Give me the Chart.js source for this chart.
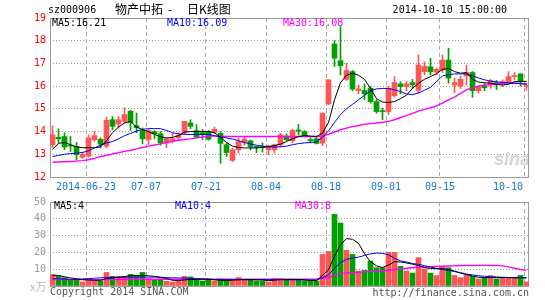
<!DOCTYPE html>
<html>
<head>
<meta charset="utf-8">
<script src="https://cdn.jsdelivr.net/npm/chart.js@4.4.1/dist/chart.umd.min.js"></script>
<style>
  html, body { margin: 0; padding: 0; background: #fff; }
  #wrap { position: relative; width: 545px; height: 300px; overflow: hidden;
          font-family: "DejaVu Sans Mono", monospace; font-size: 10px; }
  canvas { position: absolute; left: 0; top: 0; }
  .t { position: absolute; white-space: pre; line-height: 10px; }
  .cn { font-family: "Noto Sans CJK SC", sans-serif; font-size: 12px; line-height: 12px; }
</style>
</head>
<body>
<div id="wrap">
  <div class="t" style="left:494px;top:150px;font:italic bold 18px 'Liberation Sans',sans-serif;color:#d6d6d6;line-height:18px">sina</div>
  <canvas id="kChart" width="545" height="300"></canvas>
  <canvas id="volChart" width="545" height="300"></canvas>

  <div class="t" style="left:48px;top:5px">sz000906</div>
  <div class="t cn" style="left:115px;top:3px">物产中拓<span style="position:absolute;left:53px">-</span><span style="position:absolute;left:72px">日K线图</span></div>
  <div class="t" style="right:38px;top:5px">2014-10-10 15:00:00</div>

  <div class="t" style="left:52px;top:18px;color:#000">MA5:16.21</div>
  <div class="t" style="left:167px;top:18px;color:#0000ff">MA10:16.09</div>
  <div class="t" style="left:283px;top:18px;color:#ff00ff">MA30:16.08</div>

  <div class="t" style="left:54px;top:201px;color:#000">MA5:4</div>
  <div class="t" style="left:175px;top:201px;color:#0000ff">MA10:4</div>
  <div class="t" style="left:295px;top:201px;color:#ff00ff">MA30:8</div>

  <div class="t cn" style="left:30px;top:281px;font-size:11px;line-height:11px;color:#bbb">x万</div>
  <div class="t" style="left:50px;top:287px;color:#555">Copyright 2014 SINA.COM</div>
  <div class="t" style="right:16px;top:288px;color:#555">http://finance.sina.com.cn</div>
</div>

<script>
// 2014-06-13 .. 2014-10-10, 80 trading days
const tickIndex = [6, 16, 26, 36, 46, 56, 65, 79];
const tickLabels = ["2014-06-23", "07-07", "07-21", "08-04", "08-18", "09-01", "09-15", "10-10"];
const priceTicks = [12, 13, 14, 15, 16, 17, 18, 19];
const volTicks = [0, 10, 20, 30, 40, 50];

const openP = [13.42,13.75,13.78,13.40,13.35,12.87,12.92,13.64,13.66,13.36,
  14.52,14.34,14.45,14.90,14.26,14.04,13.65,14.00,13.90,13.50,
  13.58,13.72,13.94,14.38,14.04,13.95,14.00,13.96,13.92,13.42,
  12.73,13.20,13.52,13.59,13.33,13.34,13.20,13.20,13.42,13.80,
  13.60,14.07,14.00,13.65,13.68,13.49,15.22,17.86,17.12,16.30,
  16.64,15.80,15.81,15.91,15.32,14.92,14.88,15.58,16.10,15.98,
  16.16,15.82,16.64,16.85,16.62,16.71,17.15,16.05,16.00,16.45,
  16.60,15.80,16.00,16.10,16.15,16.10,16.20,16.42,16.54,15.98];
const highP = [14.25,14.12,13.95,13.78,13.52,13.10,13.85,14.00,13.72,14.64,
  14.66,14.66,15.05,14.93,14.82,14.16,14.10,14.04,14.00,13.72,
  13.94,13.94,14.45,14.52,14.30,14.10,14.05,14.20,14.00,13.49,
  13.27,13.70,13.78,13.63,13.36,13.50,13.40,13.45,13.93,13.90,
  14.10,14.32,14.04,13.72,13.80,14.82,16.28,18.00,18.62,17.00,
  16.69,16.06,16.10,15.98,15.40,15.03,15.98,16.42,16.20,16.20,
  16.30,17.37,17.07,17.23,16.80,17.37,17.67,16.35,16.45,16.93,
  16.64,16.00,16.12,16.30,16.25,16.28,16.64,16.60,16.54,16.12];
const lowP = [13.30,13.50,13.20,13.12,12.76,12.82,12.88,13.57,13.28,13.28,
  14.08,14.15,14.37,14.05,13.94,13.46,13.43,13.68,13.40,13.29,
  13.50,13.65,13.87,14.13,13.72,13.65,13.62,13.90,12.60,12.90,
  12.68,13.05,13.40,13.19,13.07,13.10,12.98,13.05,13.32,13.60,
  13.50,13.85,13.80,13.50,13.45,13.38,15.18,16.86,16.49,16.25,
  15.80,15.66,15.40,15.25,14.81,14.52,14.74,15.51,15.66,15.80,
  15.90,15.69,16.49,16.49,16.49,16.60,16.13,15.72,15.90,16.05,
  15.51,15.70,15.80,15.90,15.85,15.98,16.12,16.28,16.00,15.82];
const closeP = [13.86,13.68,13.32,13.36,12.98,13.00,13.71,13.82,13.44,14.50,
  14.23,14.52,14.75,14.40,14.17,13.68,14.04,13.90,13.50,13.68,
  13.68,13.84,14.45,14.23,13.75,13.88,13.66,14.10,13.48,13.08,
  13.20,13.56,13.67,13.34,13.31,13.31,13.36,13.42,13.86,13.64,
  14.05,14.02,13.78,13.60,13.48,14.81,16.28,17.23,16.90,16.69,
  15.87,15.88,15.66,15.32,14.88,14.88,15.90,16.16,15.98,16.10,
  16.06,16.93,16.88,16.63,16.74,17.15,16.35,16.16,16.30,16.60,
  15.80,15.98,15.93,16.24,16.08,16.20,16.42,16.46,16.20,16.01];

const ma5 = [13.22,13.48,13.52,13.42,13.33,13.29,13.29,13.29,13.32,13.60,
  13.95,14.20,14.38,14.45,14.20,14.08,14.00,13.88,13.77,13.72,
  13.74,13.82,13.98,14.00,14.00,14.00,14.00,13.95,13.75,13.52,
  13.36,13.30,13.28,13.28,13.28,13.30,13.34,13.38,13.45,13.56,
  13.68,13.78,13.82,13.80,13.78,13.93,14.40,15.40,16.15,16.48,
  16.57,16.48,16.30,15.90,15.45,15.30,15.28,15.32,15.45,15.60,
  15.90,16.13,16.30,16.42,16.55,16.74,16.78,16.64,16.57,16.60,
  16.30,16.18,16.15,16.13,16.08,16.05,16.08,16.20,16.21,16.21];
const ma10 = [12.90,12.95,13.00,13.03,13.05,13.08,13.15,13.28,13.40,13.50,
  13.56,13.68,13.82,13.92,14.02,14.10,14.13,14.13,14.13,14.05,
  13.95,13.90,13.88,13.87,13.87,13.87,13.87,13.82,13.77,13.72,
  13.67,13.60,13.52,13.45,13.40,13.36,13.33,13.32,13.33,13.36,
  13.42,13.47,13.50,13.52,13.55,13.75,14.03,14.40,14.75,15.00,
  15.20,15.40,15.60,15.80,15.88,15.90,15.90,15.84,15.76,15.66,
  15.62,15.70,15.82,15.95,16.20,16.45,16.50,16.54,16.54,16.54,
  16.45,16.36,16.28,16.22,16.19,16.16,16.15,16.13,16.11,16.09];
const ma30 = [12.65,12.66,12.67,12.68,12.70,12.72,12.76,12.82,12.90,12.96,
  13.02,13.07,13.13,13.18,13.24,13.30,13.36,13.41,13.46,13.52,
  13.57,13.62,13.65,13.68,13.72,13.76,13.80,13.80,13.80,13.79,
  13.78,13.78,13.78,13.78,13.78,13.78,13.78,13.78,13.78,13.78,
  13.78,13.78,13.78,13.78,13.78,13.80,13.88,13.98,14.08,14.15,
  14.22,14.27,14.32,14.35,14.38,14.41,14.45,14.52,14.62,14.70,
  14.80,14.90,14.98,15.05,15.13,15.25,15.40,15.52,15.68,15.84,
  15.93,16.00,16.04,16.07,16.10,16.12,16.13,16.13,16.12,16.08];

// volume, 10k lots
const volume = [6.9,5.8,5.0,3.8,3.4,2.4,3.8,3.8,3.0,8.1,
  5.8,5.8,5.4,6.9,5.8,8.1,4.4,3.4,4.2,2.8,
  2.4,3.0,5.8,5.4,3.4,3.0,3.4,3.0,4.2,3.0,
  3.0,5.0,3.8,3.8,3.0,3.0,2.4,4.4,4.4,3.4,
  3.4,3.8,3.0,3.0,3.0,18.8,20.6,42.7,37.5,21.2,
  18.8,8.9,9.3,14.9,10.9,10.9,20.0,20.0,11.7,8.9,
  7.7,16.9,10.1,7.7,6.2,11.7,10.9,6.3,5.0,6.3,
  5.8,4.2,5.0,6.2,4.2,5.0,5.0,5.0,6.3,2.4];
const volMa5 = [6.3,6.3,5.5,4.8,4.3,3.8,3.6,3.4,3.4,4.4,
  4.8,5.2,5.6,6.2,6.2,6.4,6.1,5.7,5.2,4.5,
  3.4,3.2,3.6,3.9,4.0,4.1,4.1,3.7,3.4,3.3,
  3.4,3.7,3.8,3.8,3.7,3.6,3.2,3.5,3.8,3.9,
  3.9,3.9,3.6,3.3,3.2,6.3,9.7,17.7,24.6,28.2,
  27.8,25.4,19.2,14.4,12.0,11.0,12.5,14.5,14.3,13.7,
  13.0,12.2,11.0,10.4,10.3,10.3,9.8,8.9,7.6,6.8,
  5.9,5.2,5.0,5.0,5.0,5.0,5.0,4.9,4.9,4.8];
const volMa10 = [4.4,4.3,4.1,4.0,4.0,4.2,4.4,4.6,4.9,5.0,
  5.0,5.1,5.2,5.3,5.4,5.4,5.3,5.3,5.2,5.0,
  4.9,4.8,4.7,4.6,4.4,4.2,4.0,3.9,3.8,3.8,
  3.8,3.8,3.8,3.8,3.8,3.8,3.8,3.8,3.8,3.7,
  3.7,3.7,3.7,3.6,3.6,5.0,6.7,10.5,13.9,15.9,
  16.6,17.2,18.2,19.1,19.6,19.4,18.6,16.5,15.0,14.3,
  13.4,12.9,12.1,11.3,10.5,9.8,9.3,8.6,8.0,7.1,
  6.6,6.1,5.8,5.6,5.4,5.2,5.1,5.0,5.0,4.9];
const volMa30 = [3.8,3.8,3.8,3.8,3.8,3.8,3.8,3.8,3.8,3.8,
  3.8,4.0,4.0,4.0,4.0,4.0,4.0,4.0,4.0,4.0,
  4.0,4.0,4.0,4.0,4.0,4.0,4.0,4.0,4.0,4.0,
  4.0,4.1,4.1,4.1,4.1,4.1,4.1,4.1,4.1,4.1,
  4.1,4.1,4.1,4.1,4.1,4.6,5.2,6.3,7.2,7.8,
  8.0,8.2,8.4,8.7,8.9,9.1,9.4,9.8,10.2,10.6,
  10.9,11.2,11.4,11.5,11.7,11.8,11.9,12.0,12.2,12.3,
  12.3,12.3,12.3,12.3,12.3,12.0,11.4,10.6,9.8,9.3];

const UP = "#ff5555", DOWN = "#00a000";
const FONT = { family: "DejaVu Sans Mono", size: 10 };
const GRID_SHIFT = 5 / 12;          // grid line sits at the left edge of a day slot
const N = closeP.length;
const X_MIN = -GRID_SHIFT, X_MAX = N - 1 + GRID_SHIFT;

const candleColors = closeP.map((c, i) => c >= openP[i] ? UP : DOWN);
const pts = arr => arr.map((v, i) => ({ x: i, y: v }));

function xAxis(height) {
  return {
    type: "linear", min: X_MIN, max: X_MAX, offset: false,
    afterBuildTicks: s => { s.ticks = tickIndex.map(i => ({ value: i - GRID_SHIFT })); },
    afterFit: s => { s.height = height; },
    ticks: { display: false },
    grid: { color: "#aaa", drawTicks: false, offset: false },
    border: { display: false, dash: [4, 3] }
  };
}

function yAxis(min, max, values, color, hideEdge) {
  return {
    min, max,
    afterBuildTicks: s => { s.ticks = values.map(v => ({ value: v })); },
    afterFit: s => { s.width = 50; },
    ticks: { color, font: FONT, padding: 4, callback: v => (hideEdge && v === 0) ? "" : v },
    grid: { color: c => (c.tick.value === min || c.tick.value === max) ? "transparent" : "#999", drawTicks: false },
    border: { display: false, dash: [1, 2] }
  };
}

// gray frame round the plot area
const framePlugin = {
  id: "frame",
  beforeDatasetsDraw(chart) {
    const { ctx, chartArea: a } = chart;
    ctx.save();
    ctx.strokeStyle = "#999";
    ctx.lineWidth = 1;
    ctx.strokeRect(a.left + 0.5, a.top + 0.5, a.right - a.left - 1, a.bottom - a.top);
    ctx.restore();
  }
};

// blue date labels under the k-line panel
const dateLabelPlugin = {
  id: "dateLabels",
  afterDraw(chart) {
    const { ctx, chartArea: a, scales: { x } } = chart;
    ctx.save();
    ctx.font = '10px "DejaVu Sans Mono"';
    ctx.fillStyle = "#1a78c8";
    tickIndex.forEach((t, k) => {
      const px = x.getPixelForValue(t - GRID_SHIFT);
      const w = ctx.measureText(tickLabels[k]).width;
      let left = px - w / 2;
      if (left + w > a.right - 6) left = a.right - 6 - w;
      ctx.fillText(tickLabels[k], left, a.bottom + 13);
    });
    ctx.restore();
  }
};

function maLine(data, color, width) {
  return { type: "line", data: pts(data), borderColor: color, borderWidth: width,
           pointRadius: 0, tension: 0, order: 0 };
}

new Chart(document.getElementById("kChart"), {
  type: "bar",
  data: {
    datasets: [
      maLine(ma5, "#000000", 1),
      maLine(ma10, "#0000ff", 1),
      maLine(ma30, "#ff00ff", 1.4),
      { data: openP.map((o, i) => ({ x: i, y: [o, closeP[i]] })), backgroundColor: candleColors,
        barThickness: 5, minBarLength: 1, grouped: false, order: 1 },
      { data: lowP.map((l, i) => ({ x: i, y: [l, highP[i]] })), backgroundColor: candleColors,
        barThickness: 1, grouped: false, order: 2 }
    ]
  },
  options: {
    responsive: false, animation: false, devicePixelRatio: 1,
    layout: { padding: { top: 18, right: 16, left: 0, bottom: 0 } },
    plugins: { legend: { display: false }, tooltip: { enabled: false } },
    scales: { x: xAxis(123), y: yAxis(12, 19, priceTicks, "#ff0000", false) }
  },
  plugins: [framePlugin, dateLabelPlugin]
});

new Chart(document.getElementById("volChart"), {
  type: "bar",
  data: {
    datasets: [
      maLine(volMa5, "#000000", 1),
      maLine(volMa10, "#0000ff", 1),
      maLine(volMa30, "#ff00ff", 1.4),
      { data: pts(volume), backgroundColor: candleColors, barThickness: 5, grouped: false, order: 1 }
    ]
  },
  options: {
    responsive: false, animation: false, devicePixelRatio: 1,
    layout: { padding: { top: 202, right: 16, left: 0, bottom: 0 } },
    plugins: { legend: { display: false }, tooltip: { enabled: false } },
    scales: { x: xAxis(14), y: yAxis(0, 50, volTicks, "#999", true) }
  },
  plugins: [framePlugin]
});
</script>
</body>
</html>
